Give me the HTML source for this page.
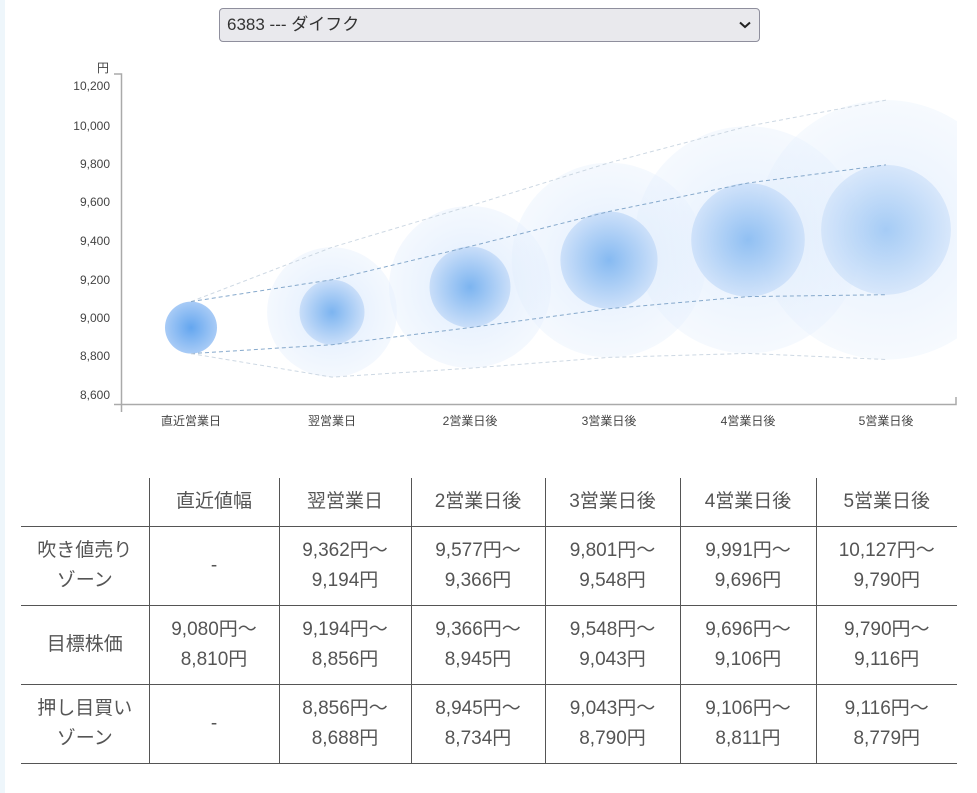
<!DOCTYPE html>
<html><head><meta charset="utf-8">
<style>
body{margin:0;width:977px;height:793px;background:#fff;position:relative;overflow:hidden;font-family:"Liberation Sans","Noto Sans CJK JP",sans-serif;}
.stripe{position:absolute;left:0;top:0;width:5px;height:793px;background:#eef6fb;}
.sel{position:absolute;left:219px;top:8px;width:541px;height:34px;background:#e9e9ed;border:1px solid #8f8f9d;border-radius:4px;box-sizing:border-box;font-size:17px;color:#333;line-height:31px;padding-left:7px;}
.sel svg{position:absolute;right:8px;top:12px;}
table{position:absolute;left:21px;top:478px;width:936px;border-collapse:collapse;color:#555;font-size:19px;}
td{border-right:1px solid #555;border-bottom:1px solid #555;text-align:center;line-height:30px;padding:0;}
td:last-child{border-right:none;}
tr.h td{height:48px;}
tr.r td{height:78px;}
</style></head><body>
<div class="stripe"></div>
<div class="sel">6383 --- ダイフク<svg width="12" height="8" viewBox="0 0 12 8"><path d="M1 1.5 L6 6 L11 1.5" fill="none" stroke="#222" stroke-width="2"/></svg></div>
<svg width="977" height="440" style="position:absolute;left:0;top:0" font-family="Liberation Sans, Noto Sans CJK JP, sans-serif">
<defs>
<radialGradient id="in"><stop offset="0" stop-color="#7cb4f0"/><stop offset="1" stop-color="#c9def9"/></radialGradient>
<radialGradient id="in0"><stop offset="0" stop-color="#64a6ef"/><stop offset="1" stop-color="#a8cbf6"/></radialGradient>
<radialGradient id="out"><stop offset="0" stop-color="#d4e6fc" stop-opacity="0.8"/><stop offset="1" stop-color="#e6f0fd" stop-opacity="0.45"/></radialGradient>
<clipPath id="c"><rect x="122" y="60" width="835" height="344"/></clipPath>
</defs>
<g font-size="12" fill="#444" text-anchor="end">
<text x="109" y="72">円</text>
<text x="110" y="90">10,200</text><text x="110" y="130">10,000</text><text x="110" y="168">9,800</text>
<text x="110" y="206">9,600</text><text x="110" y="245">9,400</text><text x="110" y="284">9,200</text>
<text x="110" y="322">9,000</text><text x="110" y="360">8,800</text><text x="110" y="399">8,600</text>
</g>
<g clip-path="url(#c)">
<circle cx="886" cy="229.8" r="129.7" fill="url(#out)" opacity="0.8"/>
<circle cx="748" cy="239.8" r="113.6" fill="url(#out)" opacity="0.85"/>
<circle cx="609" cy="260.1" r="97.3" fill="url(#out)" opacity="0.9"/>
<circle cx="470" cy="287" r="81" fill="url(#out)"/>
<circle cx="332" cy="312.2" r="64.9" fill="url(#out)"/>
<circle cx="886" cy="229.8" r="64.9" fill="url(#in)" opacity="0.6"/>
<circle cx="748" cy="239.8" r="56.8" fill="url(#in)" opacity="0.8"/>
<circle cx="609" cy="260.1" r="48.6" fill="url(#in)" opacity="0.9"/>
<circle cx="470" cy="287" r="40.5" fill="url(#in)"/>
<circle cx="332" cy="312.2" r="32.5" fill="url(#in)"/>
<circle cx="191" cy="327.6" r="26" fill="url(#in0)"/>
<g fill="none" stroke-dasharray="4,3" stroke-width="1">
<polyline stroke="#cdd8e3" points="191,301.6 332,247.3 470,205.9 609,162.8 748,126.2 886,100.1"/>
<polyline stroke="#86a9cc" points="191,301.6 332,279.7 470,246.5 609,211.5 748,183 886,164.9"/>
<polyline stroke="#86a9cc" points="191,353.6 332,344.7 470,327.6 609,308.7 748,296.6 886,294.7"/>
<polyline stroke="#cdd8e3" points="191,353.6 332,377.1 470,368.2 609,357.4 748,353.4 886,359.5"/>
</g>
</g>
<g stroke="#aaa" stroke-width="1.5" fill="none">
<path d="M114 74 H121.5 V412"/><path d="M114 404.5 H956 V397"/>
</g>
<g font-size="12" fill="#444" text-anchor="middle">
<text x="191" y="425">直近営業日</text><text x="332" y="425">翌営業日</text><text x="470" y="425">2営業日後</text>
<text x="609" y="425">3営業日後</text><text x="748" y="425">4営業日後</text><text x="886" y="425">5営業日後</text>
</g>
</svg>
<table>
<colgroup><col style="width:128px"><col style="width:130px"><col style="width:132px"><col style="width:134px"><col style="width:135px"><col style="width:136px"><col></colgroup>
<tr class="h"><td></td><td>直近値幅</td><td>翌営業日</td><td>2営業日後</td><td>3営業日後</td><td>4営業日後</td><td>5営業日後</td></tr>
<tr class="r"><td>吹き値売り<br>ゾーン</td><td>-</td><td>9,362円～<br>9,194円</td><td>9,577円～<br>9,366円</td><td>9,801円～<br>9,548円</td><td>9,991円～<br>9,696円</td><td>10,127円～<br>9,790円</td></tr>
<tr class="r"><td>目標株価</td><td>9,080円～<br>8,810円</td><td>9,194円～<br>8,856円</td><td>9,366円～<br>8,945円</td><td>9,548円～<br>9,043円</td><td>9,696円～<br>9,106円</td><td>9,790円～<br>9,116円</td></tr>
<tr class="r"><td>押し目買い<br>ゾーン</td><td>-</td><td>8,856円～<br>8,688円</td><td>8,945円～<br>8,734円</td><td>9,043円～<br>8,790円</td><td>9,106円～<br>8,811円</td><td>9,116円～<br>8,779円</td></tr>
</table>
</body></html>
